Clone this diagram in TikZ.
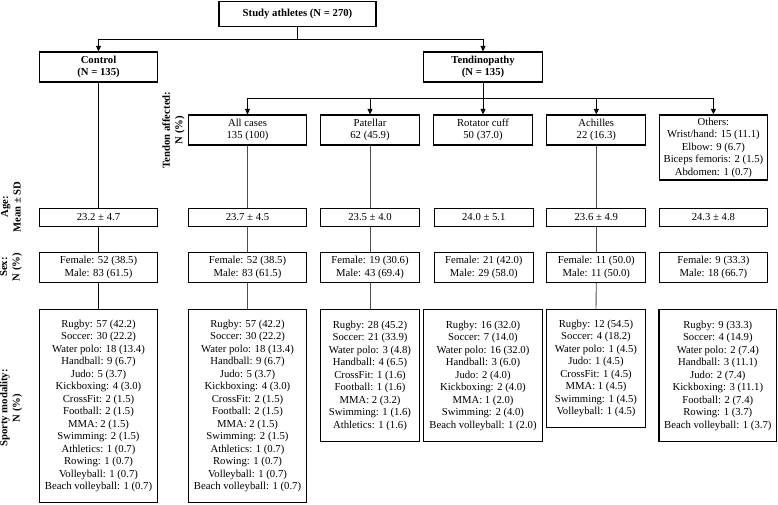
\documentclass[tikz,border=0pt]{standalone}
\usepackage{fontspec}
\setmainfont{Liberation Serif}
\usetikzlibrary{arrows.meta}
\tikzset{
  bx/.style={draw, line width=1.2pt, align=center, inner sep=0pt,
    font=\fontsize{10.7}{12.5}\selectfont},
  ln/.style={line width=0.9pt},
  arr/.style={line width=0.9pt, -{Triangle[length=5.5pt,width=5pt]}},
  vl/.style={line width=0.9pt, black!70},
  lab/.style={rotate=90, align=center, inner sep=0pt,
    font=\bfseries\fontsize{10.7}{12.5}\selectfont}
}
\begin{document}
\begin{tikzpicture}[x=1pt,y=-1pt]
\useasboundingbox (0,0) rectangle (778,504);
% top
\node[bx, font=\bfseries\fontsize{10.7}{12.5}\selectfont, minimum width=157pt, minimum height=25pt] (top) at (297.5,13.8) {Study athletes (N = 270)};
\node[bx, font=\bfseries\fontsize{10.7}{12.5}\selectfont, minimum width=118.5pt, minimum height=30pt] (ctrl) at (98.5,67) {Control\\(N = 135)};
\node[bx, font=\bfseries\fontsize{10.7}{12.5}\selectfont, minimum width=119pt, minimum height=30pt] (tend) at (483,67) {Tendinopathy\\(N = 135)};
% tendon row
\node[bx, minimum width=118pt, minimum height=30pt] (tA) at (247.5,130) {All cases\\135 (100)};
\node[bx, minimum width=98.5pt, minimum height=30pt] (tP) at (370,130) {Patellar\\62 (45.9)};
\node[bx, minimum width=99pt, minimum height=30pt] (tR) at (483,130) {Rotator cuff\\50 (37.0)};
\node[bx, minimum width=99pt, minimum height=30pt] (tH) at (596.3,130) {Achilles\\22 (16.3)};
\node[bx, minimum width=108.5pt, minimum height=65pt] (tO) at (713.4,147.5) {Others:\\Wrist/hand: 15 (11.1)\\Elbow: 9 (6.7)\\Biceps femoris: 2 (1.5)\\Abdomen: 1 (0.7)};
% age row
\node[bx, minimum width=118pt, minimum height=18pt] (aC) at (98.5,217.2) {23.2 ± 4.7};
\node[bx, minimum width=118pt, minimum height=18pt] (aA) at (247.5,217.2) {23.7 ± 4.5};
\node[bx, minimum width=98.5pt, minimum height=18pt] (aP) at (370,217.2) {23.5 ± 4.0};
\node[bx, minimum width=99pt, minimum height=18pt] (aR) at (483.8,217.2) {24.0 ± 5.1};
\node[bx, minimum width=99pt, minimum height=18pt] (aH) at (596.3,217.2) {23.6 ± 4.9};
\node[bx, minimum width=108.5pt, minimum height=18pt] (aO) at (713.4,217.2) {24.3 ± 4.8};
% sex row
\node[bx, minimum width=118pt, minimum height=30pt] (sC) at (98.5,267.3) {Female: 52 (38.5)\\Male: 83 (61.5)};
\node[bx, minimum width=118pt, minimum height=30pt] (sA) at (247.5,267.3) {Female: 52 (38.5)\\Male: 83 (61.5)};
\node[bx, minimum width=98.5pt, minimum height=30pt] (sP) at (370,267.3) {Female: 19 (30.6)\\Male: 43 (69.4)};
\node[bx, minimum width=99pt, minimum height=30pt] (sR) at (483.8,267.3) {Female: 21 (42.0)\\Male: 29 (58.0)};
\node[bx, minimum width=99pt, minimum height=30pt] (sH) at (596.3,267.3) {Female: 11 (50.0)\\Male: 11 (50.0)};
\node[bx, minimum width=108.5pt, minimum height=30pt] (sO) at (713.4,267.3) {Female: 9 (33.3)\\Male: 18 (66.7)};
% sport row
\node[bx, minimum width=118pt, minimum height=193pt] (pC) at (98.5,405.9) {Rugby: 57 (42.2)\\Soccer: 30 (22.2)\\Water polo: 18 (13.4)\\Handball: 9 (6.7)\\Judo: 5 (3.7)\\Kickboxing: 4 (3.0)\\CrossFit: 2 (1.5)\\Football: 2 (1.5)\\MMA: 2 (1.5)\\Swimming: 2 (1.5)\\Athletics: 1 (0.7)\\Rowing: 1 (0.7)\\Volleyball: 1 (0.7)\\Beach volleyball: 1 (0.7)};
\node[bx, minimum width=118pt, minimum height=193pt] (pA) at (247.5,405.9) {Rugby: 57 (42.2)\\Soccer: 30 (22.2)\\Water polo: 18 (13.4)\\Handball: 9 (6.7)\\Judo: 5 (3.7)\\Kickboxing: 4 (3.0)\\CrossFit: 2 (1.5)\\Football: 2 (1.5)\\MMA: 2 (1.5)\\Swimming: 2 (1.5)\\Athletics: 1 (0.7)\\Rowing: 1 (0.7)\\Volleyball: 1 (0.7)\\Beach volleyball: 1 (0.7)};
\node[bx, minimum width=98.5pt, minimum height=132.4pt] (pP) at (370,375.5) {Rugby: 28 (45.2)\\Soccer: 21 (33.9)\\Water polo: 3 (4.8)\\Handball: 4 (6.5)\\CrossFit: 1 (1.6)\\Football: 1 (1.6)\\MMA: 2 (3.2)\\Swimming: 1 (1.6)\\Athletics: 1 (1.6)};
\node[bx, minimum width=119.4pt, minimum height=132.4pt] (pR) at (483,375.5) {Rugby: 16 (32.0)\\Soccer: 7 (14.0)\\Water polo: 16 (32.0)\\Handball: 3 (6.0)\\Judo: 2 (4.0)\\Kickboxing: 2 (4.0)\\MMA: 1 (2.0)\\Swimming: 2 (4.0)\\Beach volleyball: 1 (2.0)};
\node[bx, minimum width=98.3pt, minimum height=118.4pt] (pH) at (596,368.5) {Rugby: 12 (54.5)\\Soccer: 4 (18.2)\\Water polo: 1 (4.5)\\Judo: 1 (4.5)\\CrossFit: 1 (4.5)\\MMA: 1 (4.5)\\Swimming: 1 (4.5)\\Volleyball: 1 (4.5)};
\node[bx, minimum width=117.5pt, minimum height=132.4pt] (pO) at (717.8,375.5) {Rugby: 9 (33.3)\\Soccer: 4 (14.9)\\Water polo: 2 (7.4)\\Handball: 3 (11.1)\\Judo: 2 (7.4)\\Kickboxing: 3 (11.1)\\Football: 2 (7.4)\\Rowing: 1 (3.7)\\Beach volleyball: 1 (3.7)};
% row labels
\node[lab] (lT) at (173.5,130) {Tendon affected:\\N (\%)};
\node[lab] (lA) at (11,207) {Age:\\Mean ± SD};
\node[lab] (lS) at (11,267) {Sex:\\N (\%)};
\node[lab] (lM) at (11,408) {Sporty modality:\\N (\%)};
% connectors
\draw[ln] (top.south) -- ++(0,13) coordinate (j1);
\draw[arr] (j1) -| (ctrl.north);
\draw[arr] (j1) -| (tend.north);
\draw[ln] (tend.south) -- ++(0,16) coordinate (j2);
\draw[arr] (j2) -| (tA.north);
\draw[arr] (j2) -| (tP.north);
\draw[arr] (j2) -- (tR.north);
\draw[arr] (j2) -| (tH.north);
\draw[arr] (j2) -| (tO.north);
% column lines
\draw[ln] (ctrl.south) -- (aC.north);
\draw[ln] (aC.south) -- (sC.north);
\draw[ln] (sC.south) -- (pC.north);
\draw[vl] (tA.south) -- (aA.north);
\draw[vl] (aA.south) -- (sA.north);
\draw[vl] (sA.south) -- (pA.north);
\draw[vl] (tP.south) -- (aP.north);
\draw[vl] (aP.south) -- (sP.north);
\draw[vl] (sP.south) -- (pP.north);
\draw[vl] (tH.south) -- (aH.north);
\draw[vl] (aH.south) -- (sH.north);
\draw[vl] (sH.south) -- (pH.north);
\end{tikzpicture}
\end{document}
